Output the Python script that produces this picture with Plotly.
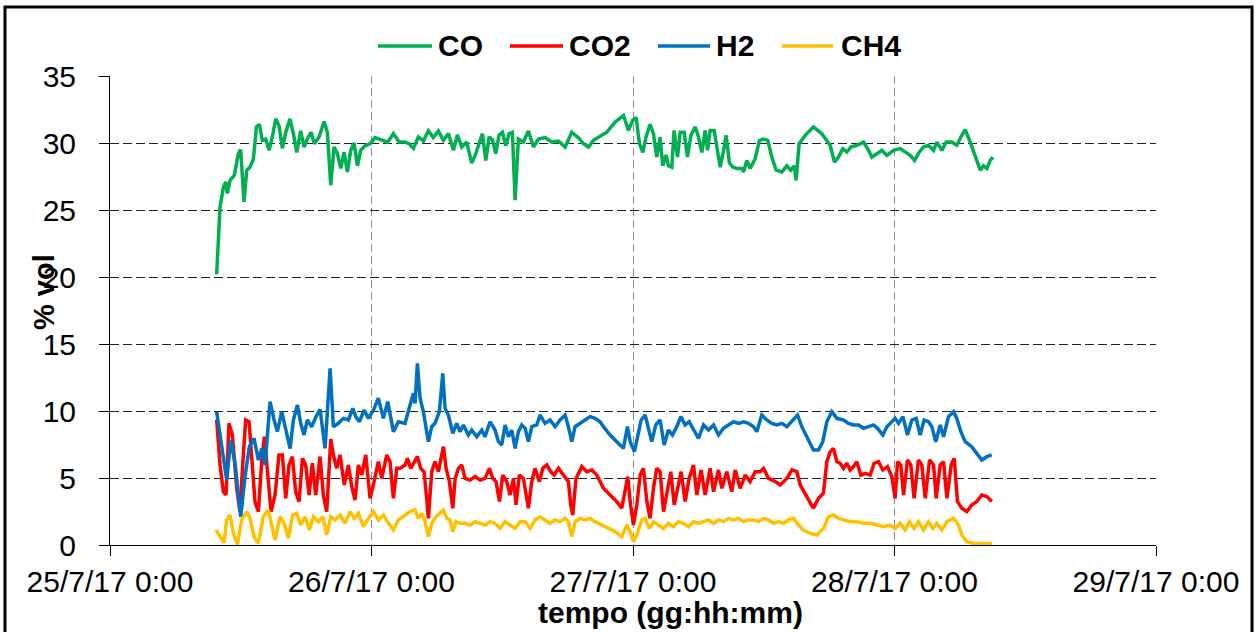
import pandas as pd
import plotly.graph_objects as go

# Orario delle letture in ore dall'inizio del 25/7/17 e composizione del gas (% vol)
co_ore = [9.79, 9.94, 10.10, 10.40, 10.62, 10.77, 11.02, 11.41, 11.78, 11.99, 12.30, 12.55, 12.85, 13.16,
          13.44, 13.71, 13.98, 14.29, 14.60, 14.90, 15.21, 15.51, 15.82, 16.13, 16.52, 16.83, 17.14, 17.50,
          17.81, 18.11, 18.45, 18.76, 19.19, 19.65, 19.95, 20.26, 20.56, 20.87, 21.18, 21.48, 21.79, 22.09,
          22.40, 22.71, 23.01, 23.41, 23.87, 24.33, 24.94, 25.49, 26.01, 26.53, 27.08, 27.45, 27.85, 28.30,
          28.76, 29.22, 29.68, 30.14, 30.60, 31.06, 31.52, 31.88, 32.28, 32.74, 33.20, 33.57, 33.87, 34.18,
          34.49, 34.79, 35.10, 35.40, 35.71, 36.02, 36.32, 36.63, 36.93, 37.18, 37.48, 37.94, 38.40, 38.86,
          39.32, 39.93, 40.55, 41.16, 41.77, 42.38, 42.99, 43.45, 43.91, 44.37, 44.98, 45.59, 46.36, 47.13,
          47.58, 47.98, 48.29, 48.59, 48.90, 49.20, 49.57, 49.88, 50.18, 50.49, 50.73, 51.04, 51.25, 51.56,
          51.77, 52.08, 52.33, 52.69, 53.00, 53.31, 53.71, 54.01, 54.32, 54.63, 54.84, 55.08, 55.45, 55.69,
          56.00, 56.31, 56.55, 56.85, 57.16, 57.53, 57.99, 58.14, 58.45, 58.75, 59.21, 59.61, 59.98, 60.37,
          60.74, 61.14, 61.66, 62.12, 62.48, 62.79, 62.97, 63.25, 63.80, 64.56, 65.33, 66.09, 66.49, 66.86,
          67.26, 67.63, 67.99, 68.54, 69.16, 69.62, 69.92, 70.38, 70.84, 71.30, 71.91, 72.52, 72.98, 73.44,
          73.84, 74.29, 74.66, 75.12, 75.58, 75.89, 76.35, 76.74, 77.26, 77.72, 78.09, 78.49, 78.95, 79.41,
          79.87, 80.17, 80.48, 80.79, 81.03]
co_val = [20.2, 23.25, 25.24, 26.67, 27.1, 26.23, 27.22, 27.59, 29.2, 29.5, 25.6, 27.97, 28.2, 28.8,
          31.2, 31.4, 30.2, 30.3, 29.45, 30.45, 31.8, 31.3, 29.6, 30.8, 31.8, 30.7, 29.3, 30.9,
          29.7, 30.3, 30.8, 29.95, 30.45, 31.6, 30.8, 26.85, 29.7, 29.2, 28.1, 29.3, 27.84, 29.45,
          30.0, 28.3, 29.45, 29.8, 29.95, 30.4, 30.25, 30.07, 30.7, 30.07, 30.07, 29.95, 29.6, 30.45,
          30.15, 30.9, 30.4, 30.9, 30.2, 30.7, 29.45, 30.6, 29.7, 30.07, 28.5, 29.2, 29.95, 30.7,
          28.7, 30.45, 30.25, 29.2, 30.6, 30.8, 29.8, 30.7, 30.8, 25.73, 30.3, 30.07, 30.9, 29.7,
          30.3, 30.4, 30.07, 30.15, 29.7, 30.8, 30.4, 29.95, 29.7, 30.2, 30.5, 30.8, 31.56, 32.06,
          30.94, 31.7, 31.9, 29.95, 29.3, 30.45, 31.4, 30.7, 28.95, 30.45, 28.3, 29.1, 28.3, 28.2,
          30.94, 28.95, 30.8, 30.8, 28.95, 30.57, 31.2, 30.45, 29.3, 30.94, 29.45, 30.94, 30.94, 29.7,
          28.2, 29.45, 30.57, 28.5, 28.2, 28.1, 28.1, 27.84, 28.7, 28.1, 28.83, 30.2, 30.3, 30.2,
          28.95, 27.97, 27.84, 28.3, 27.97, 28.3, 27.22, 29.95, 30.57, 31.2, 30.7, 29.83, 28.58, 28.95,
          29.58, 29.33, 29.7, 29.83, 30.07, 29.45, 28.95, 29.2, 29.45, 29.08, 29.45, 29.58, 29.33, 29.08,
          28.7, 29.33, 29.7, 29.83, 29.45, 30.07, 29.45, 30.07, 30.07, 29.83, 30.45, 31.0, 30.07, 29.08,
          27.97, 28.3, 28.1, 28.7, 28.95]

co2_ore = [9.79, 10.10, 10.40, 10.65, 10.92, 11.23, 11.63, 11.93, 12.18, 12.45, 12.76, 13.07, 13.31, 13.62,
           13.92, 14.17, 14.47, 14.78, 15.15, 15.51, 15.82, 16.13, 16.43, 16.74, 17.04, 17.35, 17.66, 17.96,
           18.27, 18.57, 18.88, 19.28, 19.58, 19.89, 20.26, 20.50, 20.81, 21.11, 21.50, 21.88, 22.19, 22.49,
           22.80, 23.10, 23.47, 23.87, 24.17, 24.63, 24.94, 25.40, 25.70, 26.01, 26.32, 26.62, 27.08, 27.29,
           27.60, 27.91, 28.21, 28.52, 28.82, 29.07, 29.22, 29.53, 29.83, 30.14, 30.45, 30.60, 30.85, 31.15,
           31.46, 31.68, 31.98, 32.28, 32.59, 33.05, 33.51, 33.97, 34.42, 34.82, 35.13, 35.43, 35.74, 36.05,
           36.41, 36.72, 37.03, 37.27, 37.57, 37.94, 38.40, 38.71, 39.01, 39.41, 39.72, 40.09, 40.45, 40.76,
           41.16, 41.62, 42.07, 42.29, 42.47, 42.77, 43.30, 43.76, 44.22, 44.68, 44.98, 45.29, 45.90, 46.51,
           46.97, 47.28, 47.52, 47.74, 48.04, 48.35, 48.66, 48.96, 49.27, 49.57, 49.88, 50.18, 50.49, 50.80,
           51.10, 51.47, 51.78, 52.11, 52.42, 52.79, 53.15, 53.55, 53.86, 54.25, 54.62, 55.08, 55.39, 55.85,
           56.15, 56.61, 57.07, 57.38, 57.84, 58.30, 58.75, 59.21, 59.67, 59.98, 60.44, 61.05, 61.51, 61.82,
           62.12, 62.58, 63.04, 63.35, 63.80, 64.26, 64.56, 65.02, 65.48, 65.79, 66.10, 66.40, 66.71, 67.01,
           67.32, 67.63, 67.93, 68.24, 68.54, 68.91, 69.31, 69.77, 70.13, 70.53, 70.93, 71.36, 71.76, 72.06,
           72.28, 72.58, 72.83, 73.19, 73.50, 73.80, 74.20, 74.51, 74.82, 75.22, 75.58, 75.83, 76.19, 76.50,
           76.81, 77.20, 77.48, 77.78, 78.18, 78.64, 79.09, 79.55, 80.01, 80.47, 80.93]
co2_val = [9.33, 5.97, 3.98, 3.73, 9.08, 8.21, 4.23, 2.49, 5.97, 9.33, 9.2, 5.97, 3.24, 2.49,
           6.22, 8.08, 5.22, 2.49, 3.73, 6.72, 6.72, 3.48, 5.97, 6.6, 3.98, 3.24, 6.47, 5.97,
           3.73, 6.1, 3.73, 6.6, 3.73, 2.49, 7.9, 6.72, 5.72, 6.72, 4.48, 5.97, 4.36, 3.36,
           5.97, 5.22, 6.72, 3.48, 4.48, 6.22, 4.97, 6.72, 6.22, 3.48, 5.72, 5.72, 5.97, 6.47,
           5.72, 6.22, 6.6, 5.72, 5.47, 3.48, 1.99, 5.47, 6.22, 5.47, 6.72, 7.34, 5.72, 4.73,
           2.74, 4.97, 5.72, 5.97, 4.97, 4.85, 5.1, 4.85, 4.97, 5.72, 4.97, 4.73, 3.24, 5.22,
           4.73, 3.73, 4.97, 2.99, 5.22, 4.97, 2.74, 4.73, 5.72, 4.73, 5.72, 5.97, 5.47, 5.22,
           5.72, 5.22, 4.73, 2.99, 2.24, 4.97, 5.85, 5.47, 5.6, 5.22, 4.73, 4.23, 3.73, 3.24,
           2.74, 4.23, 5.1, 3.24, 1.49, 2.99, 5.22, 5.72, 3.24, 1.99, 4.23, 5.72, 5.47, 2.49,
           3.98, 5.47, 2.99, 4.23, 5.47, 3.24, 4.97, 5.97, 3.73, 5.6, 3.73, 5.72, 3.98, 5.6,
           4.23, 5.47, 3.98, 5.6, 4.23, 5.22, 4.73, 5.47, 5.47, 5.72, 4.97, 4.73, 4.48, 4.73,
           4.97, 5.6, 5.47, 4.48, 3.86, 3.24, 2.74, 3.48, 3.86, 6.22, 6.97, 7.21, 6.22, 6.1,
           5.72, 6.1, 5.6, 5.85, 6.22, 5.22, 5.35, 5.22, 6.1, 6.22, 5.6, 5.85, 5.1, 3.48,
           6.22, 5.97, 3.73, 6.35, 5.97, 3.48, 6.35, 5.97, 3.48, 6.35, 5.97, 3.48, 5.97, 6.22,
           3.48, 5.97, 6.47, 3.24, 2.74, 2.49, 2.99, 3.24, 3.73, 3.61, 3.24]

h2_ore = [9.79, 10.71, 11.08, 11.48, 12.00, 12.39, 12.79, 13.22, 13.62, 13.93, 14.23, 14.69, 15.06, 15.36,
          15.76, 16.13, 16.53, 16.83, 17.20, 17.50, 17.81, 18.11, 18.51, 18.91, 19.28, 19.74, 20.20, 20.50,
          20.96, 21.42, 21.88, 22.28, 22.59, 22.89, 23.32, 23.72, 24.18, 24.63, 25.09, 25.49, 26.01, 26.47,
          27.08, 27.54, 27.85, 28.00, 28.21, 28.46, 28.76, 29.22, 29.53, 29.83, 30.23, 30.54, 30.75, 31.06,
          31.46, 31.82, 32.13, 32.44, 32.89, 33.20, 33.66, 34.12, 34.42, 34.88, 35.34, 35.65, 35.95, 36.26,
          36.57, 36.87, 37.18, 37.48, 37.79, 38.10, 38.40, 38.71, 39.17, 39.47, 39.93, 40.39, 40.85, 41.31,
          41.77, 42.07, 42.38, 42.69, 43.15, 43.60, 44.06, 44.52, 44.98, 45.29, 45.90, 46.51, 47.12, 47.49,
          47.74, 48.13, 48.44, 48.75, 49.11, 49.42, 49.72, 50.09, 50.49, 50.86, 51.25, 51.62, 52.02, 52.39,
          52.79, 53.15, 53.55, 54.01, 54.47, 54.93, 55.39, 55.85, 56.30, 56.76, 57.22, 57.68, 58.14, 58.60,
          59.06, 59.36, 59.82, 60.28, 60.74, 61.20, 61.66, 62.12, 62.58, 63.10, 63.49, 64.11, 64.56, 65.02,
          65.42, 65.79, 66.25, 66.71, 67.32, 67.78, 68.24, 68.70, 69.16, 69.62, 70.07, 70.44, 70.93, 71.30,
          71.76, 72.06, 72.37, 72.77, 73.19, 73.59, 73.99, 74.35, 74.72, 75.12, 75.43, 75.79, 76.19, 76.50,
          76.96, 77.42, 77.72, 78.09, 78.49, 79.09, 79.55, 80.01, 80.47, 80.93]
h2_val = [9.95, 4.85, 7.83, 6.1, 2.1, 5.1, 7.34, 7.96, 6.34, 7.2, 5.97, 10.7, 9.33, 8.46,
          9.95, 8.7, 7.2, 9.33, 10.45, 9.08, 8.21, 9.33, 8.83, 9.58, 10.12, 7.21, 13.18, 8.83,
          9.08, 9.45, 9.33, 10.2, 9.53, 9.2, 10.07, 9.45, 10.07, 10.95, 9.45, 10.7, 8.46, 9.2,
          9.08, 10.45, 11.32, 10.57, 13.56, 10.95, 9.95, 7.71, 8.83, 9.08, 9.95, 12.81, 10.2, 9.7,
          8.33, 9.08, 8.46, 8.96, 8.21, 8.58, 8.08, 8.58, 8.08, 9.2, 8.58, 7.71, 7.46, 8.96,
          8.08, 8.58, 7.21, 8.46, 8.96, 8.71, 7.71, 8.83, 8.96, 9.7, 9.08, 9.33, 8.83, 9.33,
          9.7, 8.83, 7.71, 8.83, 9.08, 9.33, 9.58, 9.45, 9.2, 8.83, 8.21, 7.71, 7.21, 8.83,
          7.71, 6.97, 8.21, 9.33, 9.7, 8.58, 7.71, 8.96, 9.33, 7.46, 8.58, 8.21, 8.83, 9.58,
          8.96, 9.2, 8.58, 7.96, 8.96, 8.58, 8.96, 8.21, 8.71, 8.96, 9.2, 9.08, 9.2, 9.08,
          8.83, 8.46, 9.7, 9.33, 9.08, 8.96, 9.08, 8.83, 9.2, 9.7, 8.83, 7.84, 7.09, 7.09,
          7.71, 9.2, 9.95, 9.45, 9.33, 9.08, 8.96, 8.96, 8.71, 8.83, 8.96, 8.71, 8.21, 8.83,
          9.2, 9.45, 9.08, 9.58, 8.21, 9.33, 9.45, 8.21, 9.33, 9.2, 8.83, 7.71, 8.96, 8.08,
          9.58, 9.95, 9.45, 8.46, 7.71, 7.34, 6.84, 6.34, 6.59, 6.72]

ch4_ore = [9.73, 10.10, 10.47, 10.71, 11.02, 11.32, 11.69, 12.09, 12.55, 12.85, 13.22, 13.62, 14.07, 14.53,
           14.84, 15.15, 15.61, 15.98, 16.37, 16.77, 17.14, 17.50, 17.90, 18.30, 18.67, 19.13, 19.53, 19.89,
           20.26, 20.66, 21.12, 21.58, 22.03, 22.40, 22.80, 23.26, 23.72, 24.18, 24.64, 25.10, 25.56, 26.01,
           26.47, 27.08, 27.54, 28.00, 28.30, 28.61, 28.92, 29.22, 29.53, 29.93, 30.29, 30.60, 30.91, 31.21,
           31.46, 31.76, 32.13, 32.59, 33.05, 33.51, 33.97, 34.42, 34.88, 35.34, 35.80, 36.26, 36.72, 37.18,
           37.64, 38.10, 38.55, 39.01, 39.47, 39.93, 40.39, 40.85, 41.31, 41.77, 42.07, 42.38, 42.69, 43.15,
           43.60, 44.06, 44.52, 45.14, 45.75, 46.36, 46.97, 47.43, 47.74, 48.04, 48.35, 48.81, 49.11, 49.48,
           49.88, 50.34, 50.80, 51.25, 51.71, 52.17, 52.63, 53.09, 53.55, 54.01, 54.47, 54.93, 55.39, 55.85,
           56.30, 56.76, 57.22, 57.68, 58.14, 58.60, 59.06, 59.52, 59.98, 60.44, 60.90, 61.35, 61.81, 62.27,
           62.73, 63.19, 63.65, 64.26, 64.87, 65.48, 65.94, 66.40, 66.86, 67.32, 67.93, 68.54, 69.16, 69.77,
           70.38, 70.99, 71.60, 72.06, 72.52, 72.98, 73.37, 73.80, 74.20, 74.66, 75.12, 75.52, 75.88, 76.34,
           76.81, 77.42, 77.88, 78.18, 78.64, 79.25, 79.86, 80.47, 80.93]
ch4_val = [1.12, 0.62, 0.17, 1.87, 2.24, 0.87, 0.05, 1.87, 2.49, 1.99, 0.62, 0.12, 2.11, 2.61,
           1.62, 0.37, 2.11, 1.62, 0.5, 2.24, 2.36, 1.49, 2.11, 1.12, 2.11, 1.74, 2.11, 0.75,
           2.11, 1.87, 2.24, 1.62, 2.49, 1.99, 2.36, 1.37, 1.99, 2.49, 1.87, 2.24, 1.62, 1.12,
           1.87, 2.24, 2.49, 2.61, 1.99, 2.36, 1.74, 0.62, 1.62, 2.11, 2.36, 2.61, 1.99, 1.87,
           1.0, 1.74, 1.62, 1.62, 1.49, 1.74, 1.62, 1.49, 1.74, 1.62, 1.24, 1.74, 1.49, 1.24,
           1.74, 1.74, 1.24, 1.87, 2.11, 1.87, 1.62, 1.87, 1.74, 1.99, 1.74, 0.62, 1.74, 1.99,
           1.87, 1.99, 1.74, 1.49, 1.24, 1.0, 0.62, 1.49, 1.0, 0.25, 0.75, 1.87, 1.99, 1.24,
           1.74, 1.49, 1.24, 1.62, 1.37, 1.74, 1.62, 1.37, 1.74, 1.62, 1.74, 1.87, 1.62, 1.87,
           1.74, 1.99, 1.87, 1.99, 1.74, 1.87, 1.87, 1.74, 1.99, 1.87, 1.62, 1.74, 1.62, 1.87,
           1.99, 1.49, 1.12, 0.87, 0.75, 1.24, 2.11, 2.24, 1.99, 1.87, 1.74, 1.74, 1.62, 1.62,
           1.49, 1.37, 1.49, 1.24, 1.62, 1.12, 1.74, 1.24, 1.74, 1.12, 1.74, 1.24, 1.62, 1.12,
           1.74, 1.99, 1.49, 0.75, 0.25, 0.12, 0.12, 0.12, 0.12]

serie = [
    ("CO", co_ore, co_val, "#00B050"),
    ("CO2", co2_ore, co2_val, "#FF0000"),
    ("H2", h2_ore, h2_val, "#0070C0"),
    ("CH4", ch4_ore, ch4_val, "#FFC000"),
]

giorni = ["2017-07-25", "2017-07-26", "2017-07-27", "2017-07-28", "2017-07-29"]
etichette_giorni = ["25/7/17 0:00", "26/7/17 0:00", "27/7/17 0:00", "28/7/17 0:00", "29/7/17 0:00"]
tick_y = [0, 5, 10, 15, 20, 25, 30, 35]

inizio = pd.Timestamp("2017-07-25 00:00")
FONT = "Liberation Sans, Arial, sans-serif"
SPESSORE = 3.5

fig = go.Figure()
for nome, ore, val, colore in serie:
    fig.add_trace(go.Scatter(
        x=inizio + pd.to_timedelta(ore, unit="h"),
        y=val,
        mode="lines",
        name=nome,
        showlegend=False,
        line=dict(color=colore, width=SPESSORE),
    ))

# Legenda in alto: segmento colorato + nome, posizioni in coordinate "paper"
legenda_pos = [(0.2562, 0.3078, 0.3126), (0.3824, 0.4331, 0.4379),
               (0.5239, 0.5736, 0.5784), (0.6424, 0.6912, 0.6979)]
y_leg = 1.064
forme = []
note = []
for (nome, _, _, colore), (x0, x1, xt) in zip(serie, legenda_pos):
    forme.append(dict(type="line", xref="paper", yref="paper", x0=x0, x1=x1, y0=y_leg, y1=y_leg,
                      line=dict(color=colore, width=SPESSORE)))
    note.append(dict(text=nome, xref="paper", yref="paper", x=xt, y=y_leg, showarrow=False,
                     xanchor="left", yanchor="middle", borderpad=0,
                     font=dict(family=FONT, size=30, color="black", weight="bold")))

# Cornice esterna del grafico
forme.append(dict(type="rect", xref="paper", yref="paper",
                  x0=-0.1004, x1=1.0918, y0=-0.21, y1=1.1471,
                  line=dict(color="black", width=3), fillcolor="rgba(0,0,0,0)", layer="above"))

note.append(dict(text="% vol", xref="paper", yref="paper", x=-0.0631, y=0.5394,
                 textangle=-90, showarrow=False, xanchor="center", yanchor="middle",
                 font=dict(family=FONT, size=29, color="black", weight="bold")))
note.append(dict(text="tempo (gg:hh:mm)", xref="paper", yref="paper", x=0.5354, y=-0.1429,
                 showarrow=False, xanchor="center", yanchor="middle",
                 font=dict(family=FONT, size=30, color="black", weight="bold")))

fig.update_layout(
    width=1257, height=632,
    margin=dict(l=110, r=101, t=76, b=87),
    paper_bgcolor="white", plot_bgcolor="white",
    font=dict(family=FONT, size=30, color="black"),
    showlegend=False,
    xaxis=dict(
        type="date",
        range=[giorni[0], giorni[-1]],
        tickvals=giorni, ticktext=etichette_giorni,
        showline=True, linecolor="black", linewidth=1,
        ticks="outside", ticklen=10, tickcolor="black",
        showgrid=True, gridcolor="#8c8c8c", gridwidth=1, griddash="8px,4px",
        tickfont=dict(family=FONT, size=30, color="black"),
        zeroline=False,
    ),
    yaxis=dict(
        range=[0, 35],
        tickvals=tick_y,
        showline=True, linecolor="black", linewidth=1,
        ticks="outside", ticklen=10, tickcolor="black",
        ticklabelstandoff=17,
        showgrid=True, gridcolor="#222222", gridwidth=1.2, griddash="9px,4px",
        tickfont=dict(family=FONT, size=30, color="black"),
        zeroline=False,
    ),
    annotations=note,
    shapes=forme,
)

fig.write_html("out.html")
